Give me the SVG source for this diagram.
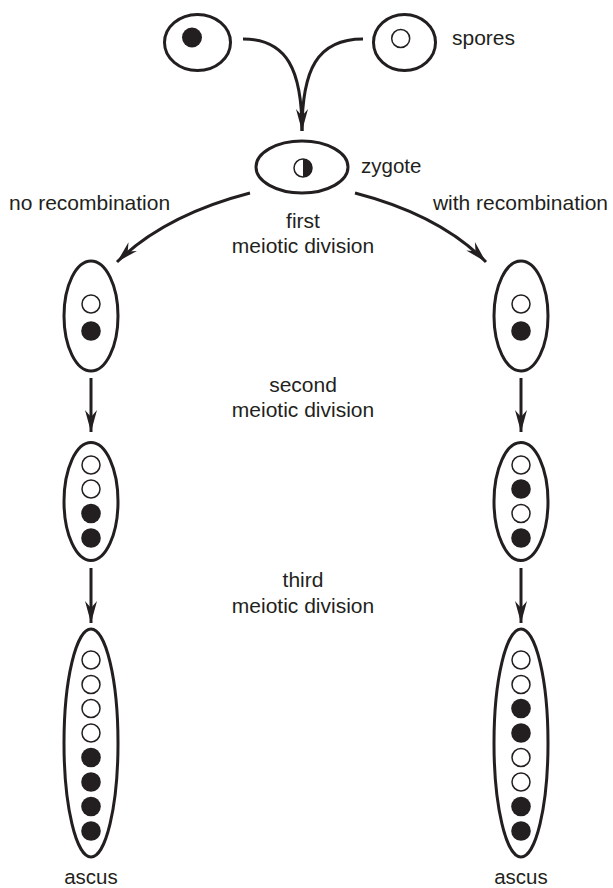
<svg xmlns="http://www.w3.org/2000/svg" width="613" height="888" viewBox="0 0 613 888">
<style>
.cell{fill:#fff;stroke:#231f20;stroke-width:3}
.open{fill:#fff;stroke:#231f20;stroke-width:1.5}
.full{fill:#231f20;stroke:none}
.conn{fill:none;stroke:#231f20;stroke-width:3}
text{font-family:"Liberation Sans",Arial,sans-serif;fill:#231f20;font-size:21px}
.mid{text-anchor:middle}
</style>
<defs>
<marker id="ah" markerUnits="userSpaceOnUse" markerWidth="26" markerHeight="16" viewBox="-24 -8 26 16" refX="0" refY="0" orient="auto">
<path d="M0,0 L-22,-6 L-15,0 L-22,6 Z" fill="#231f20"/>
</marker>
<circle id="o" r="9" class="open"/>
<circle id="f" r="9.8" class="full"/>
</defs>

<g id="connectors">
<path class="conn" d="M243,39 C287,39 302,70 302,131"/>
<path class="conn" d="M363,39 C317,39 302,70 302,131" marker-end="url(#ah)"/>
<path class="conn" d="M250,193 Q165,215 117,262" marker-end="url(#ah)"/>
<path class="conn" d="M355,193 Q440,215 486,262" marker-end="url(#ah)"/>
<path class="conn" d="M91,378 L91,432" marker-end="url(#ah)"/>
<path class="conn" d="M91,568 L91,623" marker-end="url(#ah)"/>
<path class="conn" d="M521,378 L521,432" marker-end="url(#ah)"/>
<path class="conn" d="M521,568 L521,623" marker-end="url(#ah)"/>
</g>

<g id="spore-left">
<ellipse class="cell" cx="197.5" cy="42.5" rx="33" ry="28"/>
<circle cx="192" cy="37.5" r="10" class="full"/>
</g>
<g id="spore-right">
<ellipse class="cell" cx="404.5" cy="42.5" rx="31" ry="28"/>
<circle cx="400.7" cy="38.5" r="9" class="open"/>
<text x="452" y="45">spores</text>
</g>

<g id="zygote">
<ellipse class="cell" cx="302" cy="167" rx="46" ry="26"/>
<circle cx="303" cy="168" r="9" class="open"/>
<path d="M303,159 A9,9 0 0 1 303,177 Z" class="full"/>
<text x="361" y="173" style="font-size:20.5px">zygote</text>
</g>

<g id="labels">
<text x="9" y="210">no recombination</text>
<text x="608" y="210" text-anchor="end">with recombination</text>
<text class="mid" x="303" y="228">first</text>
<text class="mid" x="303" y="253">meiotic division</text>
<text class="mid" x="303" y="392">second</text>
<text class="mid" x="303" y="417">meiotic division</text>
<text class="mid" x="303" y="587">third</text>
<text class="mid" x="303" y="613">meiotic division</text>
</g>

<g id="left-1">
<ellipse class="cell" cx="91" cy="316" rx="27" ry="55"/>
<use href="#o" x="91" y="304"/>
<use href="#f" x="91" y="331"/>
</g>
<g id="left-2">
<ellipse class="cell" cx="91" cy="501.5" rx="27" ry="59"/>
<use href="#o" x="91" y="465"/>
<use href="#o" x="91" y="489"/>
<use href="#f" x="91" y="513.5"/>
<use href="#f" x="91" y="538"/>
</g>
<g id="left-3">
<ellipse class="cell" cx="91" cy="743" rx="27" ry="114"/>
<use href="#o" x="91" y="660"/>
<use href="#o" x="91" y="684.5"/>
<use href="#o" x="91" y="708.5"/>
<use href="#o" x="91" y="733"/>
<use href="#f" x="91" y="757.5"/>
<use href="#f" x="91" y="782"/>
<use href="#f" x="91" y="806.5"/>
<use href="#f" x="91" y="831"/>
<text x="91" y="884" style="font-size:20.5px" text-anchor="middle">ascus</text>
</g>

<g id="right-1">
<ellipse class="cell" cx="521" cy="316" rx="27" ry="55"/>
<use href="#o" x="521" y="304"/>
<use href="#f" x="521" y="331"/>
</g>
<g id="right-2">
<ellipse class="cell" cx="521" cy="501.5" rx="27" ry="59"/>
<use href="#o" x="521" y="465"/>
<use href="#f" x="521" y="489"/>
<use href="#o" x="521" y="513.5"/>
<use href="#f" x="521" y="538"/>
</g>
<g id="right-3">
<ellipse class="cell" cx="521" cy="743" rx="27" ry="114"/>
<use href="#o" x="521" y="660"/>
<use href="#o" x="521" y="684.5"/>
<use href="#f" x="521" y="708.5"/>
<use href="#f" x="521" y="733"/>
<use href="#o" x="521" y="757.5"/>
<use href="#o" x="521" y="782"/>
<use href="#f" x="521" y="806.5"/>
<use href="#f" x="521" y="831"/>
<text x="521" y="884" style="font-size:20.5px" text-anchor="middle">ascus</text>
</g>
</svg>
